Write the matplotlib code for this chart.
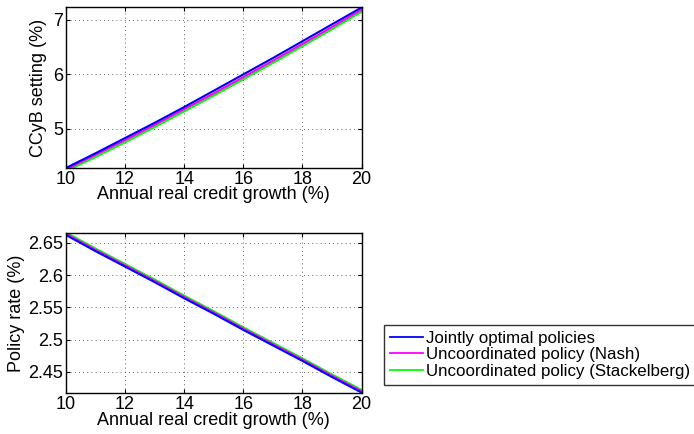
import numpy as np
import matplotlib
matplotlib.use("Agg")
from matplotlib import pyplot as plt

plt.rcParams['font.family'] = ['Liberation Sans', 'DejaVu Sans']

# credit growth grid (%)
growth = [10, 11, 12, 13, 14, 15, 16, 17, 18, 19, 20]

# CCyB setting (%)
ccyb_joint = [4.28, 4.55, 4.83, 5.11, 5.40, 5.70, 6.00, 6.30, 6.61, 6.92, 7.23]
ccyb_nash = [4.25, 4.52, 4.79, 5.07, 5.36, 5.65, 5.95, 6.25, 6.56, 6.87, 7.19]
ccyb_stack = [4.22, 4.48, 4.75, 5.03, 5.32, 5.61, 5.91, 6.21, 6.52, 6.83, 7.15]

# policy rate (%)
rate_joint = [2.662, 2.637, 2.613, 2.589, 2.564, 2.540, 2.515, 2.491, 2.467, 2.442, 2.418]
rate_nash = [2.664, 2.639, 2.615, 2.591, 2.566, 2.542, 2.517, 2.493, 2.469, 2.444, 2.420]
rate_stack = [2.666, 2.641, 2.617, 2.593, 2.568, 2.544, 2.519, 2.495, 2.471, 2.446, 2.422]

labels = ['Jointly optimal policies',
          'Uncoordinated policy (Nash)',
          'Uncoordinated policy (Stackelberg)']
colors = ['#0000ff', '#ff00ff', '#00ff00']
fs = 13

fig = plt.figure(figsize=(6.94, 4.34), dpi=100)
ax1 = fig.add_axes([0.095, 0.613, 0.426, 0.371])
ax2 = fig.add_axes([0.095, 0.094, 0.426, 0.369])

for ys, c in zip([ccyb_stack, ccyb_nash, ccyb_joint], colors[::-1]):
    ax1.plot(growth, ys, color=c, lw=1.5)
for ys, c in zip([rate_stack, rate_nash, rate_joint], colors[::-1]):
    ax2.plot(growth, ys, color=c, lw=1.5)

ax1.set_ylim(4.28, 7.24)
ax1.set_yticks([5, 6, 7])
ax1.set_ylabel('CCyB setting (%)', fontsize=fs, labelpad=4)
ax2.set_ylim(2.417, 2.665)
ax2.set_yticks([2.45, 2.5, 2.55, 2.6, 2.65])
ax2.set_yticklabels(['2.45', '2.5', '2.55', '2.6', '2.65'])
ax2.set_ylabel('Policy rate (%)', fontsize=fs, labelpad=2)

for ax in (ax1, ax2):
    ax.set_xlim(10, 20)
    ax.set_xticks([10, 12, 14, 16, 18, 20])
    ax.set_xlabel('Annual real credit growth (%)', fontsize=fs, labelpad=-1)
    ax.grid(True, ls=(0, (1, 4)), color='#333333', lw=0.6)
    ax.tick_params(direction='in', labelsize=fs, length=3, top=True, right=True, pad=2)
    for s in ax.spines.values():
        s.set_linewidth(1.0)

handles = [plt.Line2D([], [], color=c, lw=1.3) for c in colors]
leg = fig.legend(handles, labels, loc='upper left',
                 bbox_to_anchor=(384 / 694, 1 - 325 / 434),
                 prop={'size': 12.2}, frameon=True, fancybox=False,
                 handlelength=1.95, handletextpad=0.2, labelspacing=0.08,
                 borderpad=0.35, borderaxespad=0)
leg.get_frame().set_edgecolor('black')
leg.get_frame().set_linewidth(1.0)

fig.savefig('out.png', dpi=100)
